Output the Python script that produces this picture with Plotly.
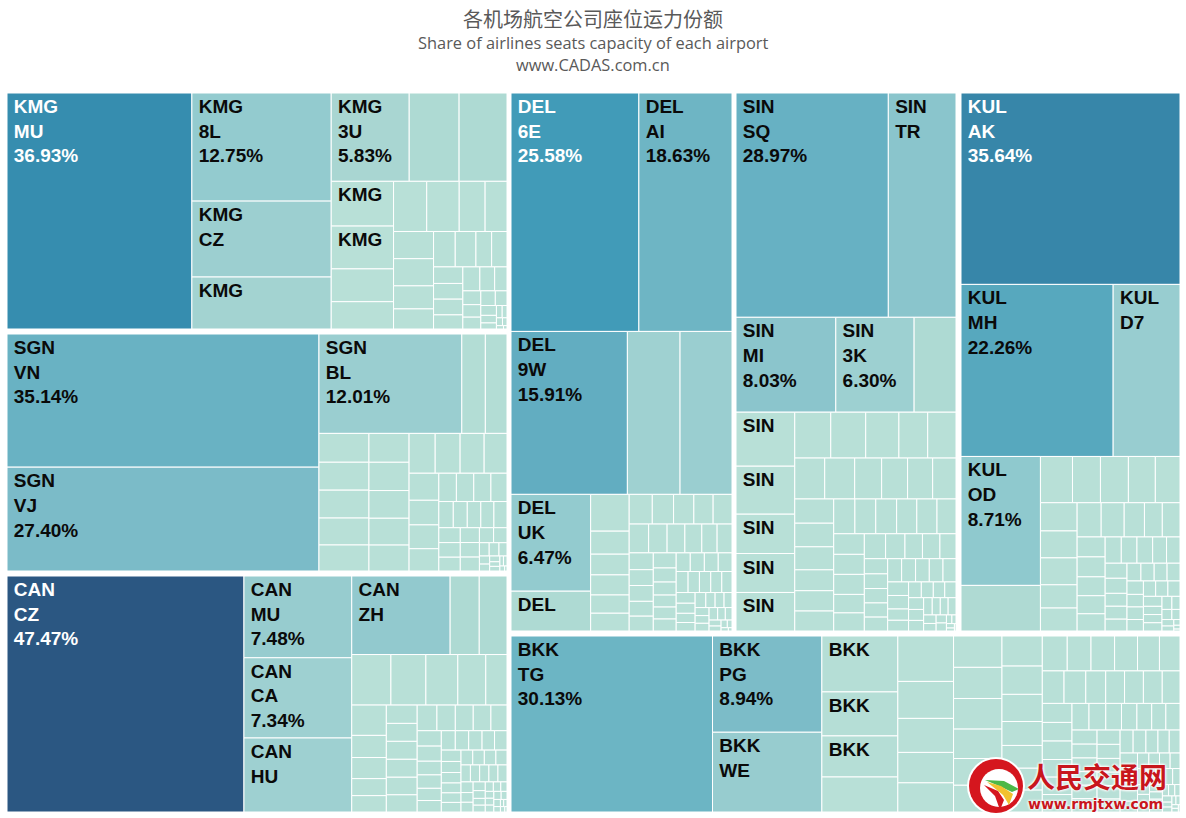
import plotly.graph_objects as go

# share of seats per airline at each airport (%)
kmg_shares = [36.93, 12.75, 8.95, 6.13, 5.83, 3.73, 3.58, 2.36, 2.26, 1.73, 1.44, 1.41, 1.38, 1.10, 0.93, 0.92, 0.92,
              0.78, 0.68, 0.65, 0.62, 0.47, 0.46, 0.41, 0.39, 0.39, 0.35, 0.345, 0.30, 0.25, 0.21, 0.19, 0.18, 0.18,
              0.145, 0.13, 0.10, 0.08, 0.06, 0.05, 0.04, 0.03, 0.02, 0.01]
sgn_shares = [35.14, 27.40, 12.01, 1.98, 1.82, 1.22, 1.18, 1.18, 1.14, 1.10, 0.98, 0.96, 0.94, 0.91, 0.88, 0.88, 0.84,
              0.81, 0.77, 0.68, 0.62, 0.60, 0.56, 0.42, 0.416, 0.41, 0.385, 0.32, 0.31, 0.30, 0.29, 0.29, 0.27, 0.265,
              0.25, 0.24, 0.235, 0.225, 0.18, 0.17, 0.11, 0.11, 0.09, 0.07, 0.06, 0.05, 0.04, 0.04, 0.03, 0.03, 0.02,
              0.01]
can_shares = [47.47, 7.48, 7.34, 6.77, 6.56, 1.94, 1.85, 1.68, 1.50, 1.37, 1.20, 0.91, 0.89, 0.65, 0.62, 0.50, 0.48,
              0.48, 0.47, 0.47, 0.47, 0.46, 0.45, 0.43, 0.40, 0.39, 0.385, 0.35, 0.315, 0.31, 0.28, 0.275, 0.25, 0.235,
              0.23, 0.22, 0.22, 0.205, 0.205, 0.19, 0.185, 0.175, 0.165, 0.16, 0.16, 0.148, 0.146, 0.146, 0.14, 0.135,
              0.133, 0.133, 0.13, 0.13, 0.11, 0.10, 0.10, 0.09, 0.08, 0.07, 0.07, 0.065, 0.06, 0.05, 0.05, 0.05, 0.05,
              0.05, 0.04, 0.04, 0.03, 0.02, 0.02, 0.02, 0.01]
del_shares = [25.58, 18.63, 15.91, 7.20, 7.10, 6.47, 2.66, 1.19, 0.745, 0.67, 0.65, 0.59, 0.575, 0.575, 0.53, 0.505,
              0.48, 0.47, 0.47, 0.447, 0.43, 0.41, 0.37, 0.36, 0.34, 0.32, 0.32, 0.30, 0.30, 0.29, 0.27, 0.25, 0.23,
              0.23, 0.23, 0.22, 0.22, 0.217, 0.215, 0.21, 0.20, 0.20, 0.195, 0.18, 0.17, 0.16, 0.146, 0.135, 0.135,
              0.117, 0.113, 0.10, 0.094, 0.09, 0.09, 0.09, 0.08, 0.07, 0.06, 0.05, 0.04, 0.03, 0.02, 0.01]
sin_shares = [28.97, 12.87, 8.03, 6.30, 3.37, 2.69, 2.39, 1.96, 1.94, 1.92, 1.40, 1.36, 1.29, 1.12, 1.10, 1.04, 1.04,
              0.935, 0.90, 0.87, 0.81, 0.80, 0.78, 0.76, 0.69, 0.67, 0.66, 0.625, 0.615, 0.615, 0.595, 0.595, 0.56,
              0.535, 0.52, 0.52, 0.48, 0.47, 0.45, 0.41, 0.37, 0.37, 0.34, 0.30, 0.29, 0.285, 0.28, 0.275, 0.275,
              0.275, 0.27, 0.27, 0.256, 0.24, 0.24, 0.20, 0.19, 0.17, 0.16, 0.153, 0.15, 0.15, 0.14, 0.135, 0.126,
              0.118, 0.115, 0.115, 0.09, 0.08, 0.07, 0.07, 0.04, 0.03, 0.03, 0.02, 0.01]
kul_shares = [35.64, 22.26, 9.78, 8.71, 3.08, 1.26, 1.10, 1.10, 1.06, 0.97, 0.88, 0.84, 0.84, 0.725, 0.716, 0.70, 0.67,
              0.59, 0.52, 0.515, 0.475, 0.475, 0.45, 0.43, 0.41, 0.36, 0.35, 0.35, 0.31, 0.30, 0.28, 0.28, 0.24, 0.24,
              0.22, 0.21, 0.20, 0.195, 0.195, 0.187, 0.175, 0.175, 0.16, 0.16, 0.16, 0.158, 0.158, 0.13, 0.13, 0.13,
              0.11, 0.09, 0.085, 0.07, 0.065, 0.05, 0.03, 0.02, 0.01]
bkk_shares = [30.13, 8.94, 7.41, 3.61, 2.84, 2.65, 2.26, 2.15, 1.75, 1.61, 1.44, 1.38, 1.29, 1.28, 1.26, 1.21, 1.10,
              1.10, 1.03, 0.97, 0.93, 0.82, 0.78, 0.75, 0.75, 0.74, 0.705, 0.70, 0.68, 0.65, 0.61, 0.60, 0.60, 0.55,
              0.52, 0.52, 0.52, 0.49, 0.48, 0.47, 0.465, 0.445, 0.44, 0.44, 0.385, 0.38, 0.355, 0.35, 0.335, 0.32,
              0.32, 0.30, 0.295, 0.29, 0.29, 0.285, 0.285, 0.28, 0.275, 0.27, 0.265, 0.26, 0.254, 0.254, 0.25, 0.235,
              0.22, 0.21, 0.19, 0.18, 0.17, 0.17, 0.16, 0.15, 0.14, 0.14, 0.13, 0.13, 0.12, 0.12, 0.11, 0.10, 0.10,
              0.09, 0.09, 0.08, 0.08, 0.07, 0.07, 0.06, 0.06, 0.05, 0.05, 0.04, 0.04, 0.03, 0.03, 0.02, 0.02, 0.01]

# labels of the biggest cells, the rest carry no text
kmg_text = ["KMG<br>MU<br>36.93%", "KMG<br>8L<br>12.75%", "KMG<br>CZ", "KMG", "KMG<br>3U<br>5.83%", "", "", "KMG", "KMG"]
sgn_text = ["SGN<br>VN<br>35.14%", "SGN<br>VJ<br>27.40%", "SGN<br>BL<br>12.01%"]
can_text = ["CAN<br>CZ<br>47.47%", "CAN<br>MU<br>7.48%", "CAN<br>CA<br>7.34%", "CAN<br>HU", "CAN<br>ZH"]
del_text = ["DEL<br>6E<br>25.58%", "DEL<br>AI<br>18.63%", "DEL<br>9W<br>15.91%", "", "", "DEL<br>UK<br>6.47%", "DEL"]
sin_text = ["SIN<br>SQ<br>28.97%", "SIN<br>TR", "SIN<br>MI<br>8.03%", "SIN<br>3K<br>6.30%", "", "SIN", "SIN", "SIN",
            "SIN", "SIN"]
kul_text = ["KUL<br>AK<br>35.64%", "KUL<br>MH<br>22.26%", "KUL<br>D7", "KUL<br>OD<br>8.71%"]
bkk_text = ["BKK<br>TG<br>30.13%", "BKK<br>PG<br>8.94%", "BKK<br>WE", "BKK", "BKK", "BKK"]

# fill of the biggest cells, the rest use the pale tone
PALE = "#B8E0D7"
kmg_colors = ["#368DAF", "#93CBCF", "#9CCFD0", "#A3D3D1", "#A9D6D2", "#AEDAD3", "#AEDAD3"]
sgn_colors = ["#69B2C3", "#7BBBC8", "#9ACED0", "#B3DDD5", "#B3DDD5"]
can_colors = ["#2B5782", "#97CCCF", "#9ED0D1", "#9ED0D1", "#92C9CE", "#AEDAD3", "#AEDAD3"]
del_colors = ["#419BB8", "#6EB5C4", "#62ADC1", "#9FD1D1", "#9ACED0", "#93CBCF", "#AEDAD3"]
sin_colors = ["#67B1C3", "#8AC5CC", "#8BC5CC", "#9DD0D1", "#AEDAD3"]
kul_colors = ["#3786A9", "#57A8BE", "#98CDD0", "#8FC9CE", "#AFDAD3"]
bkk_colors = ["#6CB5C4", "#7CBCC8", "#97CCCF", "#B5DED6", "#B5DED6", "#B5DED6"]

# airport blocks on the page: left, top, right, bottom in pixels
W, H = 1186, 818
blocks = [
    ("KMG", kmg_shares, kmg_text, kmg_colors, (7, 93, 507, 329)),
    ("SGN", sgn_shares, sgn_text, sgn_colors, (7, 334, 507, 571)),
    ("CAN", can_shares, can_text, can_colors, (7, 576, 507, 812)),
    ("DEL", del_shares, del_text, del_colors, (511, 93, 732, 631)),
    ("SIN", sin_shares, sin_text, sin_colors, (736, 93, 956, 631)),
    ("KUL", kul_shares, kul_text, kul_colors, (961, 93, 1180, 631)),
    ("BKK", bkk_shares, bkk_text, bkk_colors, (511, 636, 1180, 812)),
]
WHITE_TEXT = {"KMG<br>MU<br>36.93%", "DEL<br>6E<br>25.58%", "CAN<br>CZ<br>47.47%", "KUL<br>AK<br>35.64%"}
INDENT = "\u2009"  # the labels sit a bit further in than plotly's own padding

fig = go.Figure()
for code, shares, text, colors, (x0, y0, x1, y1) in blocks:
    n = len(shares)
    texts = text + [""] * (n - len(text))
    fig.add_trace(go.Treemap(
        ids=[f"{code}-{i}" for i in range(n)],
        labels=[f"{code}-{i}" for i in range(n)],
        parents=[""] * n,
        values=shares,
        text=["<br>".join(INDENT + s for s in t.split("<br>")) if t else "" for t in texts],
        textinfo="text",
        textposition="top left",
        textfont=dict(family="Liberation Sans", size=19, weight="bold",
                      color=["#FFFFFF" if t in WHITE_TEXT else "#0A0A0A" for t in texts]),
        marker=dict(colors=colors + [PALE] * (n - len(colors)),
                    line=dict(color="#FFFFFF", width=1),
                    pad=dict(t=0, l=0, r=0, b=0)),
        tiling=dict(packing="squarify", squarifyratio=1.618, pad=0),
        pathbar=dict(visible=False),
        sort=True,
        domain=dict(x=[x0 / W, x1 / W], y=[1 - y1 / H, 1 - y0 / H]),
        hoverinfo="skip",
    ))


def page_text(text, x, y, size, family, color="#595959", **kw):
    fig.add_annotation(text=text, x=x / W, y=1 - y / H, xref="paper", yref="paper", showarrow=False,
                       xanchor="center", yanchor="middle",
                       font=dict(family=family, size=size, color=color, **kw))


page_text("各机场航空公司座位运力份额", 593, 19, 20, "Noto Sans CJK SC")
page_text("Share of airlines seats capacity of each airport", 593, 43, 16.4, "Open Sans")
page_text("www.CADAS.com.cn", 593, 64, 16.4, "Open Sans")

# watermark in the lower right corner
halo = "0 0 3px #fff, 0 0 3px #fff, 0 0 3px #fff"
page_text("人民交通网", 1097, 776, 28, "Noto Sans CJK SC", color="#C8161D", weight="bold", shadow=halo)
page_text("www.rmjtxw.com", 1095, 804, 14, "DejaVu Sans", color="#C8161D", weight="bold", shadow=halo)


def circle(cx, cy, r, color):
    fig.add_shape(type="circle", xref="paper", yref="paper", layer="above",
                  x0=(cx - r) / W, x1=(cx + r) / W, y0=1 - (cy + r) / H, y1=1 - (cy - r) / H,
                  fillcolor=color, line_width=0)


def blob(points, color):
    path = "M " + " L ".join(f"{px / W},{1 - py / H}" for px, py in points) + " Z"
    fig.add_shape(type="path", path=path, xref="paper", yref="paper", layer="above",
                  fillcolor=color, line_width=0)


circle(996, 786, 29, "#FFFFFF")
circle(996, 786, 27, "#D5161E")
circle(999, 788, 19, "#FFFFFF")
blob([(985, 780), (1004, 781), (1019, 789), (1012, 792), (999, 786)], "#4DB848")
blob([(987, 782), (1001, 786), (1013, 794), (1009, 805), (1003, 795)], "#F2C230")
blob([(984, 785), (998, 791), (1004, 800), (1000, 810), (995, 796)], "#D5161E")

fig.update_layout(width=W, height=H, margin=dict(l=0, r=0, t=0, b=0), paper_bgcolor="#FFFFFF", showlegend=False)

fig.write_html("out.html", post_script="document.body.style.margin='0';", config={"displayModeBar": False})
